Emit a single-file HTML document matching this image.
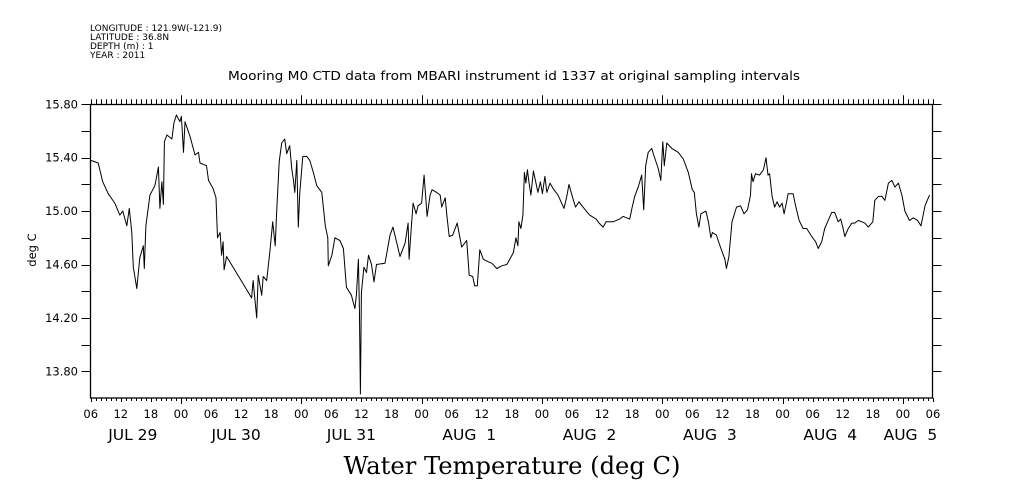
<!DOCTYPE html>
<html><head><meta charset="utf-8"><style>
html,body{margin:0;padding:0;background:#fff;width:1009px;height:504px;overflow:hidden}
svg{display:block;font-family:"DejaVu Sans","Liberation Sans",sans-serif}
</style></head><body>
<svg id="chart" width="1009" height="504" viewBox="0 0 1009 504">
<g font-size="9" fill="#000">
<text x="90" y="31" textLength="132" lengthAdjust="spacingAndGlyphs">LONGITUDE : 121.9W(-121.9)</text>
<text x="90" y="40">LATITUDE : 36.8N</text>
<text x="90" y="49">DEPTH (m) : 1</text>
<text x="90" y="58">YEAR : 2011</text>
</g>
<text x="514" y="80" font-size="12" text-anchor="middle" textLength="572" lengthAdjust="spacingAndGlyphs">Mooring M0 CTD data from MBARI instrument id 1337 at original sampling intervals</text>
<text x="0" y="0" font-size="11.5" text-anchor="middle" transform="translate(36,250) rotate(-90)">deg C</text>
<text x="512" y="474" font-size="24" text-anchor="middle" font-family="'DejaVu Serif','Liberation Serif',serif" textLength="337" lengthAdjust="spacingAndGlyphs">Water Temperature (deg C)</text>
<rect x="90.5" y="104.5" width="842" height="293.5" fill="none" stroke="#000" stroke-width="1.3"/>
<g id="ticks"></g>
<g id="labels" font-size="12"></g>
<path id="line" fill="none" stroke="#000" stroke-width="1" stroke-linejoin="round"/>
</svg>
<script>
const hours=[0,1.5,2.4,3.5,4.8,5.8,6.4,7.2,7.7,8.2,8.5,9.2,9.8,10.5,10.7,11,11.8,12.8,13.5,13.8,14.2,14.5,14.7,15.2,16.2,16.6,17.1,17.8,18.1,18.5,18.8,19.8,20.8,21.5,21.8,23.1,23.5,24.4,25,25.3,25.8,26.1,26.4,26.6,27.1,32.1,32.4,33.1,33.4,34.1,34.4,35.1,35.8,36.3,36.8,37.1,37.6,38.1,38.7,39.1,39.7,40.1,40.4,40.7,41.1,41.4,41.7,42.3,43.1,43.7,44.4,45.1,46.1,46.8,47.3,47.4,48.1,48.7,49.7,50.4,51,52,52.7,53,53.4,53.6,53.8,54,54.5,55,55.4,56,56.5,57,58.7,59.7,60.3,61.7,62.7,63.3,63.5,64,64.3,64.9,65.3,66,66.5,67.1,67.7,68.1,69,69.7,70,70.7,71,71.5,72.2,73.1,74,75,75.5,76.2,76.6,77.1,77.6,78.3,79.3,80,81,82,83,83.6,84.3,84.8,85.2,85.4,85.8,86.2,86.5,86.8,87.1,87.4,87.8,88.3,88.7,89.2,89.7,90.1,90.6,91,91.6,92.2,93.2,94.4,94.9,95.4,95.9,96.7,97.4,98.2,99.5,100.8,101.4,102.2,102.8,104.2,105.5,106.2,107.5,108,108.5,109.2,109.9,110.3,110.7,111.2,111.9,112.3,113.2,113.7,114.1,114.4,114.9,115.9,117.2,118.2,119.2,120,120.4,120.8,121.3,121.7,122.7,123.2,123.7,124,124.8,125.7,126.5,126.8,127.3,127.9,128.8,129.6,130.3,131,131.6,131.8,132.1,132.6,133.4,134.2,134.7,135.1,135.4,135.9,136.4,136.9,137.4,137.9,138.3,138.8,139.1,140.1,140.6,141.3,142.1,142.8,143.8,144.6,145.1,145.8,146.4,147.1,147.8,148.4,149.1,149.6,150,150.4,151.1,151.8,152.4,153.1,153.8,154.4,155.1,156,156.4,157.1,157.8,158.4,159.1,159.8,160.4,161.1,161.8,162.4,163.3,164.1,164.9,165.6,166.4,167.3];
const temps=[15.38,15.36,15.22,15.13,15.06,14.97,15.00,14.89,15.02,14.84,14.58,14.42,14.65,14.74,14.57,14.89,15.12,15.19,15.33,15.02,15.22,15.05,15.52,15.57,15.54,15.66,15.72,15.67,15.71,15.44,15.67,15.56,15.42,15.44,15.36,15.34,15.23,15.17,15.10,14.80,14.84,14.67,14.77,14.56,14.66,14.35,14.48,14.20,14.52,14.37,14.51,14.48,14.72,14.92,14.74,15.00,15.37,15.51,15.54,15.43,15.49,15.32,15.24,15.14,15.38,14.88,15.14,15.41,15.41,15.38,15.29,15.19,15.14,14.89,14.80,14.59,14.67,14.80,14.78,14.72,14.43,14.37,14.27,14.37,14.64,14.27,13.63,14.39,14.58,14.54,14.67,14.60,14.47,14.60,14.61,14.82,14.88,14.66,14.76,14.91,14.64,14.91,15.06,14.98,15.04,15.06,15.27,14.96,15.12,15.16,15.14,15.12,15.03,15.10,14.98,14.81,14.82,14.91,14.73,14.78,14.52,14.51,14.44,14.44,14.71,14.64,14.62,14.61,14.57,14.59,14.60,14.64,14.69,14.80,14.74,14.92,14.87,14.97,15.29,15.21,15.31,15.22,15.12,15.30,15.23,15.14,15.22,15.13,15.26,15.14,15.21,15.17,15.12,15.02,15.10,15.20,15.13,15.03,15.07,15.03,14.97,14.94,14.91,14.88,14.92,14.92,14.94,14.96,14.94,15.03,15.11,15.18,15.27,15.01,15.34,15.44,15.47,15.42,15.32,15.23,15.52,15.34,15.51,15.47,15.44,15.39,15.29,15.16,15.14,14.98,14.88,14.98,15.00,14.92,14.80,14.84,14.82,14.72,14.64,14.57,14.66,14.92,15.03,15.04,14.98,15.01,15.12,15.28,15.22,15.28,15.27,15.31,15.40,15.27,15.28,15.11,15.03,15.07,15.03,15.06,14.98,15.07,15.13,15.13,15.04,14.93,14.87,14.87,14.81,14.77,14.72,14.77,14.87,14.93,14.99,14.99,14.92,14.94,14.88,14.81,14.87,14.91,14.91,14.93,14.92,14.91,14.88,14.92,15.08,15.11,15.11,15.08,15.21,15.23,15.18,15.21,15.12,15.00,14.93,14.95,14.93,14.89,15.04,15.12];
const yTicks=["13.80","14.20","14.60","15.00","15.40","15.80"];
const hourLabels=["06","12","18","00"];
const dateLabels=["JUL 29","JUL 30","JUL 31","AUG  1","AUG  2","AUG  3","AUG  4","AUG  5"];
const dateHours=[8.4,29,52,75.5,99.5,123.5,147.5,163.5];

const X0=90.7,X1=933,H=168,YT=104.3,YB=398,VT=15.8,VB=13.6;
const xs=h=>X0+(h/H)*(X1-X0);
const ys=v=>YT+(VT-v)/(VT-VB)*(YB-YT);
const NS="http://www.w3.org/2000/svg";
const tk=document.getElementById('ticks'),lb=document.getElementById('labels');
let d="";
function ln(x1,y1,x2,y2){d+=`M${x1},${y1}L${x2},${y2}`;}
for(let h=0;h<=H;h++){
  const x=Math.round(xs(h))+0.5;
  const isDay=((h+6)%24===0), is6=(h%6===0);
  ln(x,YT,x,YT-(isDay?9:5));
  ln(x,YB,x,YB+(isDay?6:(is6?4:3)));
  if(is6){
    const t=document.createElementNS(NS,'text');
    
    
    t.setAttribute('x',xs(h));t.setAttribute('y',418);t.setAttribute('text-anchor','middle');t.setAttribute('font-size','11.5');
    t.textContent=hourLabels[(h/6)%4];lb.appendChild(t);
  }
}
for(let v=13.8;v<=15.81;v+=0.2){
  const y=Math.round(ys(v))+0.5;
  ln(90.5-9,y,90.5,y);ln(932.5,y,932.5+9,y);
}
yTicks.forEach(s=>{
  const t=document.createElementNS(NS,'text');
  
  
  t.setAttribute('x',78);t.setAttribute('y',ys(parseFloat(s))+4);t.setAttribute('text-anchor','end');t.setAttribute('font-size','11.5');
  t.textContent=s;lb.appendChild(t);
});
dateLabels.forEach((s,i)=>{
  const t=document.createElementNS(NS,'text');
  
  
  t.setAttribute('x',xs(dateHours[i]));t.setAttribute('y',440);t.setAttribute('text-anchor','middle');t.setAttribute('font-size','15.5');
  t.setAttribute('xml:space','preserve');t.style.whiteSpace='pre';
  t.textContent=s;lb.appendChild(t);
});
const tp=document.createElementNS(NS,'path');


tp.setAttribute('d',d);tp.setAttribute('stroke','#000');tp.setAttribute('stroke-width','1');
tk.appendChild(tp);
document.getElementById('line').setAttribute('d',hours.map((h,i)=>(i?'L':'M')+xs(h).toFixed(1)+','+ys(temps[i]).toFixed(1)).join(''));
</script>
</body></html>
